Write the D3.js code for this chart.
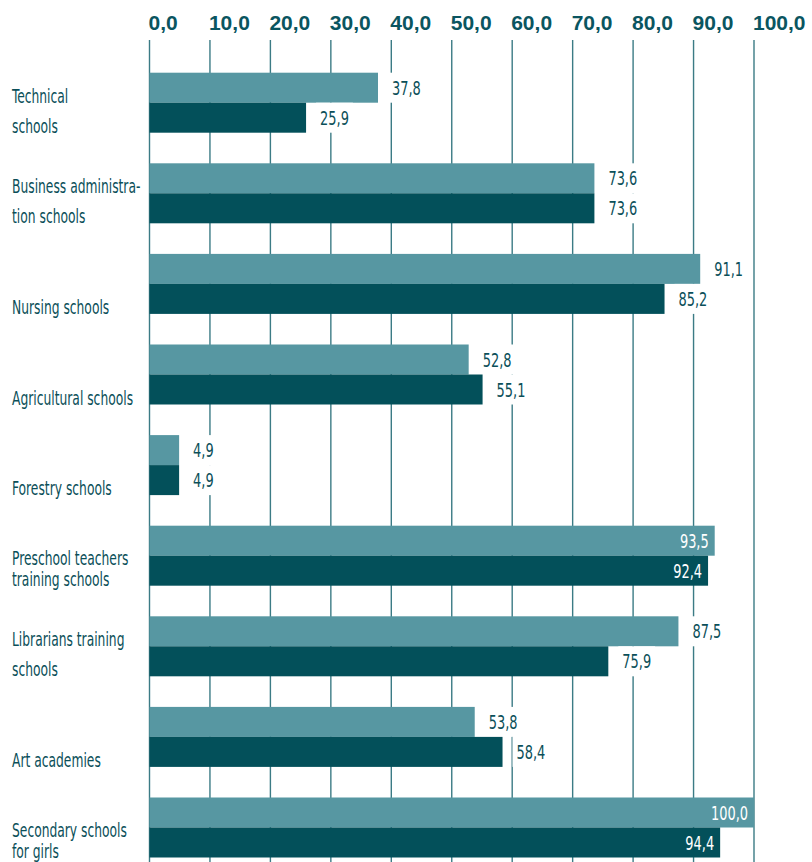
<!DOCTYPE html>
<html>
<head>
<meta charset="utf-8">
<script src="https://cdn.jsdelivr.net/npm/d3@7"></script>
<style>
  body { margin: 0; background: #fff; }
  .cat, .val { font-family: "DejaVu Sans Condensed", "DejaVu Sans", sans-serif; font-stretch: condensed; }
  .tick-label { font-family: "Liberation Sans", Arial, sans-serif; font-weight: bold; }
</style>
</head>
<body>
<div id="chart"></div>
<script>
// category labels, one entry per line of text
const categories = [
  ['Technical', 'schools'],
  ['Business administra-', 'tion schools'],
  ['Nursing schools'],
  ['Agricultural schools'],
  ['Forestry schools'],
  ['Preschool teachers', 'training schools'],
  ['Librarians training', 'schools'],
  ['Art academies'],
  ['Secondary schools', 'for girls']
];
const seriesA = [37.8, 73.6, 91.1, 52.8, 4.9, 93.5, 87.5, 53.8, 100.0];
const seriesB = [25.9, 73.6, 85.2, 55.1, 4.9, 92.4, 75.9, 58.4, 94.4];
const ticks = [0, 10, 20, 30, 40, 50, 60, 70, 80, 90, 100];

const width = 812, height = 862;
const lightCol = '#5797a2', darkCol = '#03505a', textCol = '#0b4f59';
const tightLabels = [5, 8];
const squeeze = 0.72; // the source font is much narrower than anything installed

const svg = d3.select('#chart').append('svg')
  .attr('width', width)
  .attr('height', height);

const x = d3.scaleLinear()
  .domain([0, 100])
  .range([149.5, 754]);

const names = categories.map(d => d.join(' '));
const y = d3.scaleBand()
  .domain(names)
  .range([72.7, 72.7 + 9 * 90.6 - 30.6])
  .paddingInner(30.6 / 90.6)
  .paddingOuter(0);

const sub = d3.scaleBand()
  .domain(['a', 'b'])
  .range([0, y.bandwidth()]);

function narrowText(sel, px, py) {
  return sel.append('text')
    .attr('transform', 'translate(' + px + ',' + py + ') scale(' + squeeze + ',1)');
}

// gridlines
svg.append('g')
  .selectAll('line')
  .data(ticks)
  .enter().append('line')
  .attr('x1', d => x(d)).attr('x2', d => x(d))
  .attr('y1', 40).attr('y2', height)
  .attr('stroke', '#3b7b85')
  .attr('stroke-width', 1.4);

// top tick labels, left aligned at the gridline
svg.append('g')
  .selectAll('text')
  .data(ticks)
  .enter().append('text')
  .attr('class', 'tick-label')
  .attr('x', d => x(d) - 1)
  .attr('y', 30)
  .attr('font-size', 21)
  .attr('fill', '#0a5560')
  .text(d => d3.format('.1f')(d).replace('.', ','));

const rows = names.map((n, i) => ({ name: n, lines: categories[i], a: seriesA[i], b: seriesB[i], i: i }));

const groups = svg.append('g')
  .selectAll('g')
  .data(rows)
  .enter().append('g')
  .attr('transform', d => 'translate(0,' + y(d.name) + ')');

['a', 'b'].forEach(key => {
  groups.append('rect')
    .attr('x', x(0))
    .attr('y', sub(key))
    .attr('width', d => x(d[key]) - x(0))
    .attr('height', sub.bandwidth())
    .attr('fill', key === 'a' ? lightCol : darkCol);

  groups.each(function (d) {
    let g = d3.select(this);
    let v = d[key];
    let inside = v > 92;
    let label = d3.format('.1f')(v).replace('.', ',');
    let ty = sub(key) + sub.bandwidth() / 2 + 7;
    if (!inside) {
      let t = narrowText(g, x(v) + 14, ty)
        .attr('class', 'val')
        .attr('font-size', 20)
        .attr('fill', textCol)
        .text(label);
      let w = t.node().getComputedTextLength() * squeeze;
      g.insert('rect', 'text')
        .attr('x', x(v) + 10)
        .attr('y', sub(key))
        .attr('width', w + 8)
        .attr('height', sub.bandwidth())
        .attr('fill', '#fff');
    } else {
      narrowText(g, x(v) - 6, ty)
        .attr('class', 'val')
        .attr('text-anchor', 'end')
        .attr('font-size', 20)
        .attr('fill', '#fff')
        .text(label);
    }
  });
});

// category labels
groups.each(function (d) {
  let g = d3.select(this);
  let bottom = y.bandwidth();
  let lines = d.lines;
  let ys;
  if (lines.length === 1) ys = [bottom];
  else if (tightLabels.indexOf(d.i) >= 0) ys = [bottom - 21, bottom];
  else ys = [sub('a') + sub.bandwidth(), bottom];
  lines.forEach((l, k) => {
    narrowText(g, 12, ys[k])
      .attr('class', 'cat')
      .attr('font-size', 19)
      .attr('fill', textCol)
      .text(l);
  });
});
</script>
</body>
</html>
